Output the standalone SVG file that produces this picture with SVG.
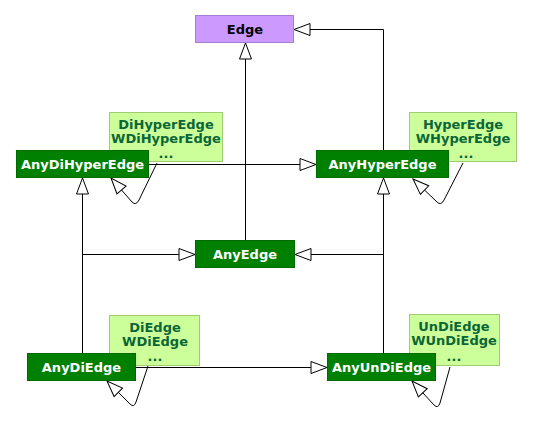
<svg xmlns="http://www.w3.org/2000/svg" width="542" height="428" viewBox="0 0 542 428">
<style>
text{font-family:"DejaVu Sans","Verdana",sans-serif;font-weight:bold;font-size:13px;text-anchor:middle}
.dark rect{fill:#008000;stroke:#006a00;stroke-width:1}
.dark text{fill:#ffffff}
.note rect{fill:#ccff99;stroke:#9fcc70;stroke-width:1}
.note text{fill:#0b6637}
.purple rect{fill:#cc99ff;stroke:#a57fd0;stroke-width:1}
.purple text{fill:#000000}
.conn path{fill:none;stroke:#000;stroke-width:1;marker-end:url(#tri)}
.conn path.plain{marker-end:none}
</style>
<defs>
<marker id="tri" viewBox="0 0 18 14" refX="17" refY="7" markerWidth="18" markerHeight="14" markerUnits="userSpaceOnUse" orient="auto" overflow="visible">
<path d="M1,1 L17,7 L1,13 Z" fill="#ffffff" stroke="#000000" stroke-width="1"/>
</marker>
</defs>
<rect width="542" height="428" fill="#ffffff"/>
<g id="note-dihyper" class="note"><rect x="109.5" y="112.5" width="113" height="49"/><text x="166" y="129">DiHyperEdge</text><text x="166" y="143">WDiHyperEdge</text><text x="166" y="158">...</text></g>
<g id="note-hyper" class="note"><rect x="409.5" y="112.5" width="107" height="49"/><text x="463" y="129">HyperEdge</text><text x="463" y="143">WHyperEdge</text><text x="466" y="158">...</text></g>
<g id="note-di" class="note"><rect x="109.5" y="315.5" width="90" height="50"/><text x="155" y="332">DiEdge</text><text x="155" y="346">WDiEdge</text><text x="155" y="361">...</text></g>
<g id="note-undi" class="note"><rect x="409.5" y="314.5" width="90" height="51"/><text x="454" y="331">UnDiEdge</text><text x="454" y="345">WUnDiEdge</text><text x="454" y="361">...</text></g>
<g id="connectors" class="conn">
<path d="M245.5,240 L245.5,43"/>
<path d="M383.5,150 L383.5,29.5 L294,29.5"/>
<path d="M149,164.5 L316,164.5"/>
<path d="M82.5,353 L82.5,178"/>
<path d="M82.5,254.5 L195,254.5"/>
<path d="M383.5,353 L383.5,178"/>
<path d="M383.5,254.5 L295,254.5"/>
<path d="M136,367.5 L327,367.5"/>
<path d="M157,163 L139,200 Q136,206 132,202 L111,178"/>
<path d="M463,163 L444,200 Q441,206 437,202 L413,179"/>
<path d="M148,366 L136,402 Q134,408 130,404 L107,381"/>
<path d="M450,367 L440,403 Q438,409 434,405 L412,381"/>
</g>
<g id="Edge" class="purple"><rect x="195.5" y="15.5" width="98" height="27"/><text x="245" y="33.5">Edge</text></g>
<g id="AnyDiHyperEdge" class="dark"><rect x="16.5" y="150.5" width="132" height="27"/><text x="82.5" y="168.5">AnyDiHyperEdge</text></g>
<g id="AnyHyperEdge" class="dark"><rect x="316.5" y="150.5" width="132" height="27"/><text x="382.5" y="168.5">AnyHyperEdge</text></g>
<g id="AnyEdge" class="dark"><rect x="195.5" y="240.5" width="99" height="27"/><text x="245" y="258.5">AnyEdge</text></g>
<g id="AnyDiEdge" class="dark"><rect x="27.5" y="353.5" width="108" height="27"/><text x="81.5" y="371.5">AnyDiEdge</text></g>
<g id="AnyUnDiEdge" class="dark"><rect x="327.5" y="353.5" width="108" height="27"/><text x="381.5" y="371.5">AnyUnDiEdge</text></g>
</svg>
